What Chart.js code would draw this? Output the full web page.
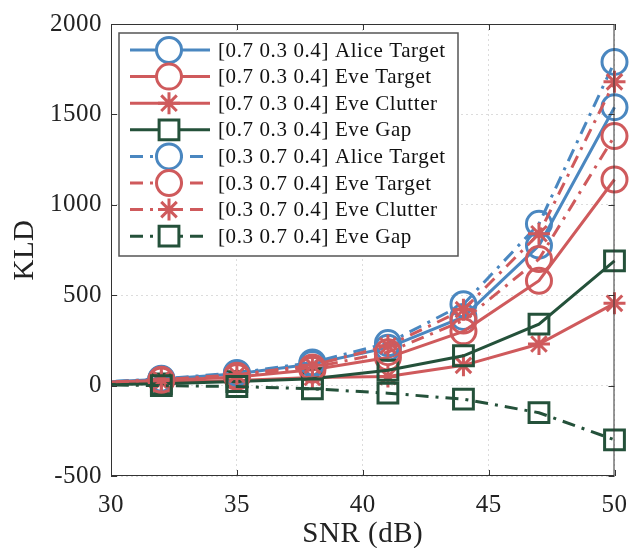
<!DOCTYPE html>
<html>
<head>
<meta charset="utf-8">
<script src="https://cdn.jsdelivr.net/npm/chart.js@4.4.1/dist/chart.umd.min.js"></script>
<style>
  html, body { margin: 0; padding: 0; background: #fff; }
  #wrap { width: 641px; height: 548px; position: relative; }
</style>
</head>
<body>
<div id="wrap"><canvas id="kldChart" width="641" height="548"></canvas></div>
<script>
// DATA
const snr = [29, 32, 35, 38, 41, 44, 47, 50];
const xTicks = [30, 35, 40, 45, 50];
const yTicks = [-500, 0, 500, 1000, 1500, 2000];

// mix [0.7 0.3 0.4]
const aliceTargetA = [15, 35, 65, 120, 210, 380, 775, 1540];
const eveTargetA   = [15, 28, 48, 88, 155, 300, 580, 1140];
const eveClutterA  = [15, 18, 28, 45, 50, 112, 230, 455];
const eveGapA      = [5, 10, 22, 38, 85, 165, 340, 690];
// mix [0.3 0.7 0.4]
const aliceTargetB = [15, 38, 70, 128, 235, 450, 895, 1790];
const eveTargetB   = [15, 32, 55, 100, 185, 360, 700, 1380];
const eveClutterB  = [15, 32, 60, 112, 220, 420, 840, 1680];
const eveGapB      = [5, 0, -5, -18, -42, -75, -150, -300];

const labels = [
    '[0.7 0.3 0.4] Alice Target', '[0.7 0.3 0.4] Eve Target',
    '[0.7 0.3 0.4] Eve Clutter', '[0.7 0.3 0.4] Eve Gap',
    '[0.3 0.7 0.4] Alice Target', '[0.3 0.7 0.4] Eve Target',
    '[0.3 0.7 0.4] Eve Clutter', '[0.3 0.7 0.4] Eve Gap'
];

const BLUE = '#4a87c0';
const RED = '#cf5a5c';
const GREEN = '#24513a';
const DASHDOT = [13, 7, 3, 7];
const SERIF = '"Liberation Serif", "DejaVu Serif", serif';

// helper to build one line series
function series(label, values, color, shape, dashed) {
    return {
        label: label,
        data: snr.map((x, i) => ({ x: x, y: values[i] })),
        borderColor: color,
        backgroundColor: 'rgba(0,0,0,0)',
        borderWidth: 3,
        borderDash: dashed ? DASHDOT : [],
        pointStyle: shape,
        pointRadius: shape === 'rect' ? 14 : (shape === 'star' ? 11 : 12.5),
        pointBorderWidth: 3,
        pointBorderColor: color,
        pointBackgroundColor: 'rgba(0,0,0,0)',
        clip: { left: 0, top: 30, right: 30, bottom: 30 },
        tension: 0
    };
}

const datasets = [
    series(labels[0], aliceTargetA, BLUE, 'circle', false),
    series(labels[1], eveTargetA, RED, 'circle', false),
    series(labels[2], eveClutterA, RED, 'star', false),
    series(labels[3], eveGapA, GREEN, 'rect', false),
    series(labels[4], aliceTargetB, BLUE, 'circle', true),
    series(labels[5], eveTargetB, RED, 'circle', true),
    series(labels[6], eveClutterB, RED, 'star', true),
    series(labels[7], eveGapB, GREEN, 'rect', true)
];
// later series on top, like the original
datasets.forEach((d, i) => { d.order = datasets.length - i; });

// Box, inner ticks and legend drawn inside the plot
const framePlugin = {
    id: 'frame',
    beforeDraw(chart) {
        chart.ctx.letterSpacing = '0.5px';
    },
    afterDatasetsDraw(chart) {
        const ctx = chart.ctx;
        const a = chart.chartArea;
        const xs = chart.scales.x, ys = chart.scales.y;
        ctx.save();
        ctx.strokeStyle = '#333';
        ctx.lineWidth = 1;
        ctx.setLineDash([]);
        ctx.strokeRect(a.left + 0.5, a.top + 0.5, a.right - a.left - 1, a.bottom - a.top - 1);
        ctx.beginPath();
        xTicks.forEach(v => {
            const px = Math.round(xs.getPixelForValue(v)) + 0.5;
            ctx.moveTo(px, a.bottom); ctx.lineTo(px, a.bottom - 6);
            ctx.moveTo(px, a.top); ctx.lineTo(px, a.top + 6);
        });
        yTicks.forEach(v => {
            const py = Math.round(ys.getPixelForValue(v)) + 0.5;
            ctx.moveTo(a.left, py); ctx.lineTo(a.left + 6, py);
            ctx.moveTo(a.right, py); ctx.lineTo(a.right - 6, py);
        });
        ctx.stroke();

        // legend
        const lx = a.left + 8, ly = a.top + 9, lw = 339, lh = 223;
        ctx.fillStyle = '#fff';
        ctx.fillRect(lx, ly, lw, lh);
        ctx.strokeStyle = '#555';
        ctx.lineWidth = 1.5;
        ctx.strokeRect(lx, ly, lw, lh);
        ctx.font = '21px ' + SERIF;
        ctx.letterSpacing = '0.6px';
        ctx.textBaseline = 'middle';
        datasets.forEach((d, i) => {
            const y = ly + 17 + i * 26.6;
            ctx.strokeStyle = d.borderColor;
            ctx.lineWidth = 3;
            ctx.setLineDash(d.borderDash);
            ctx.beginPath();
            ctx.moveTo(lx + 11, y); ctx.lineTo(lx + 91, y);
            ctx.stroke();
            ctx.setLineDash([]);
            ctx.fillStyle = '#fff';
            Chart.helpers.drawPoint(ctx, {
                pointStyle: d.pointStyle, radius: d.pointRadius, borderWidth: 3
            }, lx + 50, y);
            ctx.fillStyle = '#111';
            ctx.fillText(d.label, lx + 99, y + 1);
        });
        ctx.restore();
    }
};

const ctx = document.getElementById('kldChart').getContext('2d');
new Chart(ctx, {
    type: 'line',
    data: { datasets: datasets },
    options: {
        responsive: false,
        animation: false,
        layout: { padding: { top: 19, right: 24, bottom: 0, left: 4 } },
        plugins: { legend: { display: false }, tooltip: { enabled: false } },
        scales: {
            x: {
                type: 'linear', min: 30, max: 50,
                afterBuildTicks: s => { s.ticks = xTicks.map(v => ({ value: v })); },
                afterFit: s => { s.height = 72; },
                grid: { color: '#dcdcdc', lineWidth: 1, drawTicks: false },
                border: { display: false, dash: [2, 3] },
                ticks: { color: '#222', font: { family: SERIF, size: 25 }, padding: 14, maxRotation: 0 },
                title: { display: true, text: 'SNR (dB)', color: '#222', font: { family: SERIF, size: 29 }, padding: { top: 4, bottom: -4 } }
            },
            y: {
                min: -500, max: 2000,
                afterBuildTicks: s => { s.ticks = yTicks.map(v => ({ value: v })); },
                afterFit: s => { s.width = 107; },
                grid: { color: '#dcdcdc', lineWidth: 1, drawTicks: false },
                border: { display: false, dash: [2, 3] },
                ticks: { color: '#222', font: { family: SERIF, size: 25 }, padding: 9, callback: v => String(v) },
                title: { display: true, text: 'KLD', color: '#222', font: { family: SERIF, size: 29 }, padding: { bottom: 0 } }
            }
        }
    },
    plugins: [framePlugin]
});
</script>
</body>
</html>
